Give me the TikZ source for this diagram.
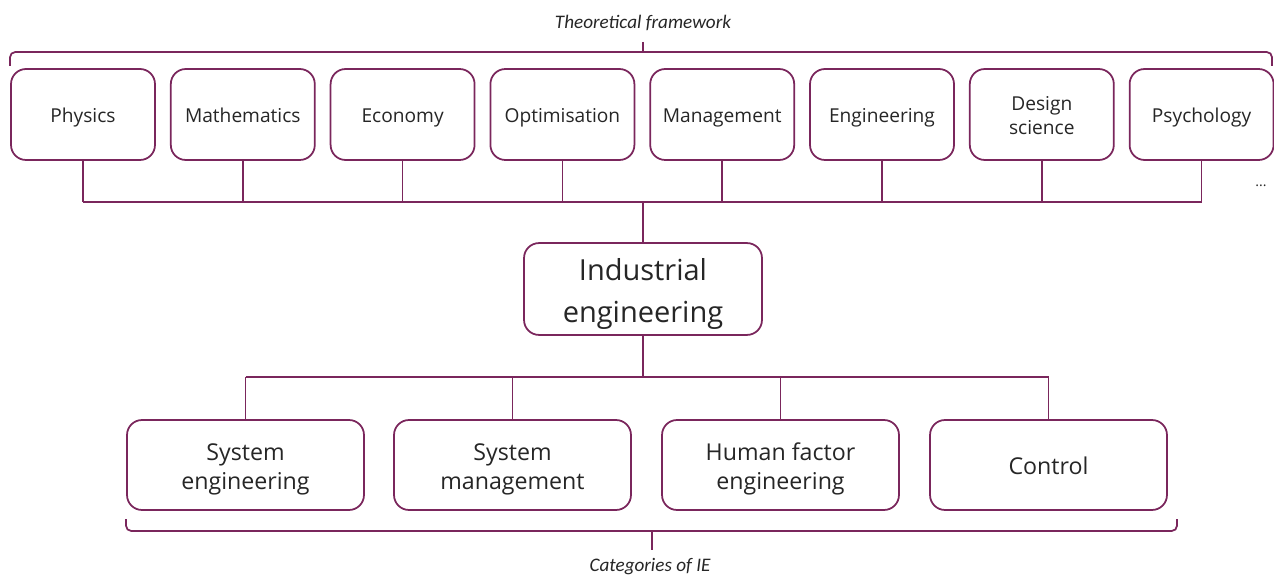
\documentclass[tikz,border=0pt]{standalone}
\usepackage{fontspec}
\setmainfont{Open Sans}
\newfontfamily\notefont{Carlito}
\usetikzlibrary{positioning}
\definecolor{iepurple}{RGB}{122,38,92}
\definecolor{ietext}{RGB}{38,38,38}
\newcommand{\liftline}{\rule{0pt}{1.1em}}

\begin{document}
\begin{tikzpicture}[x=0.02cm, y=-0.02cm,
  link/.style={iepurple, line width=1pt},
  field/.style={draw=iepurple, line width=1pt, rounded corners=0.3cm, fill=white,
    minimum width=2.88cm, minimum height=1.82cm, align=center, text=ietext,
    execute at begin node={\liftline},
    execute at end node={\rule[-0.24em]{0pt}{0pt}},
    font=\fontsize{10.9}{13.5}\selectfont},
  category/.style={field, minimum width=4.74cm, minimum height=1.8cm,
    font=\fontsize{13.2}{17}\selectfont},
  core/.style={field, minimum width=4.76cm, minimum height=1.8cm,
    font=\fontsize{16.5}{23.5}\selectfont},
  note/.style={text=ietext, font=\notefont\itshape\fontsize{10.9}{12}\selectfont}]
\useasboundingbox (0,0) rectangle (1274,577);

% theoretical framework
\foreach \name/\txt [count=\i from 0] in {phys/Physics, math/Mathematics, econ/Economy,
    opt/Optimisation, mgmt/Management, eng/Engineering, des/{\liftline Design\\science},
    psy/Psychology}
  \node[field] (\name) at ({83+159.8*\i},114.5) {\txt};
\node[note] (toplabel) at (643,23) {Theoretical framework};
\node[text=ietext, font=\fontsize{8}{10}\selectfont] (more) at (1261,186) {...};

\coordinate (tbl) at (10,66);
\coordinate (tbr) at (1272,66);
\coordinate (tbtip) at (643,42);
\draw[link, rounded corners=3pt] (tbl) -- (10,52) -- (1272,52) -- (tbr);
\draw[link] (tbtip) -- (643,52);

% industrial engineering
\node[core] (ie) at (643,289) {\liftline Industrial\\engineering};
\coordinate (topbus) at (643,202);
\foreach \name in {phys,math,econ,opt,mgmt,eng,des,psy}
  \draw[link] (\name.south) -- (\name.south |- topbus);
\draw[link] (phys.south |- topbus) -- (psy.south |- topbus);
\draw[link] (topbus) -- (ie.north);

% categories
\node[category] (syseng) at (245.5,465) {\liftline System\\engineering};
\node[category] (sysman) at (512.5,465) {\liftline System\\management};
\node[category] (human) at (780.5,465) {\liftline Human factor\\engineering};
\node[category] (ctrl) at (1048.5,465) {Control};
\coordinate (botbus) at (643,377);
\draw[link] (ie.south) -- (botbus);
\draw[link] (syseng.north |- botbus) -- (ctrl.north |- botbus);
\foreach \name in {syseng,sysman,human,ctrl}
  \draw[link] (\name.north |- botbus) -- (\name.north);

\coordinate (bbl) at (126,519);
\coordinate (bbr) at (1177,519);
\coordinate (bbtip) at (652,550);
\draw[link, rounded corners=3pt] (bbl) -- (126,531) -- (1177,531) -- (bbr);
\draw[link] (652,531) -- (bbtip);
\node[note] (botlabel) at (650,567) {Categories of IE};
\end{tikzpicture}
\end{document}
